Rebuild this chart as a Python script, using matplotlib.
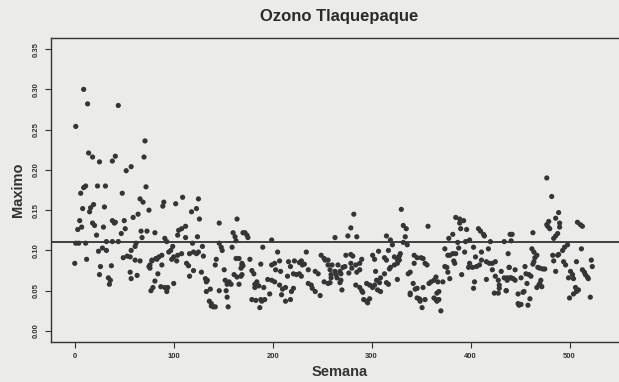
import matplotlib
matplotlib.use("Agg")
import matplotlib.pyplot as plt

# weekly ozone maxima
semana = [
    9, 13, 44, 1, 71, 14, 18, 25, 41, 38, 70, 57, 52, 11, 9, 6, 23, 31, 48, 72,
    66, 69, 19, 16, 15, 8, 30, 75, 64, 59, 5, 7, 3, 18, 20, 38, 41, 40, 50, 29,
    51, 22, 47, 67, 73, 81, 68, 1, 4, 11, 32, 38, 44, 62, 28, 24, 32, 61, 57, 0,
    12, 49, 53, 56, 61, 66, 78, 82, 26, 37, 75, 76, 25, 56, 63, 57, 34, 36, 35, 81,
    79, 77,
    109, 125, 90, 89, 102, 123, 118, 126, 164, 146, 112, 108, 105, 104, 160, 162, 124, 91, 93, 112,
    119, 146, 170, 163, 99, 97, 95, 129, 130, 148, 149, 159, 88, 85, 83, 78, 76, 108, 104, 100,
    98, 103, 116, 120, 125, 123, 143, 142, 163, 166, 169, 88, 113, 115, 84, 120, 128, 151, 116, 132,
    134, 133, 161, 164, 168, 152, 156, 158, 154, 87, 91, 94, 93, 100, 137, 133, 146, 153, 166, 154,
    136, 138, 140, 142, 138, 155,
    172, 174, 175, 199, 190, 205, 234, 177, 169, 170, 168, 188, 199, 202, 207, 203, 208, 216, 218, 222,
    227, 229, 232, 230, 179, 181, 169, 215, 221, 224, 227, 229, 236, 243, 246, 252, 253, 249, 256, 258,
    195, 199, 202, 184, 182, 182, 186, 191, 207, 213, 210, 219, 221, 236, 239, 240, 243, 248, 252, 256,
    259, 197, 209, 179, 183, 188, 192, 189, 187, 213, 218,
    330, 282, 279, 332, 335, 276, 285, 315, 263, 334, 332, 336, 319, 321, 317, 307, 274, 279, 281, 301,
    303, 313, 315, 323, 326, 329, 328, 290, 288, 284, 279, 343, 346, 350, 343, 328, 326, 323, 319, 318,
    256, 260, 266, 271, 273, 268, 263, 269, 264, 259, 265, 269, 258, 268, 277, 280, 285, 288, 304, 313,
    309, 305, 308, 317, 315, 326, 339, 337, 342, 344, 339, 339, 348, 349, 284, 288, 290, 291, 295, 298,
    301, 303, 306, 309, 270, 292, 295, 298, 296,
    385, 389, 393, 389, 357, 390, 396, 408, 410, 413, 414, 382, 378, 387, 395, 399, 420, 434, 440, 388,
    374, 403, 418, 405, 385, 382, 379, 377, 394, 411, 352, 411, 416, 419, 383, 384, 438, 354, 356, 399,
    422, 425, 374, 376, 398, 402, 406, 409, 439, 377, 391, 422, 425, 428, 431, 434, 437, 440, 416, 365,
    363, 360, 358, 379, 372, 367, 404, 403, 346, 352, 368, 366, 429, 429, 424, 428, 436, 349, 346, 354,
    363, 365, 368, 366, 351, 370,
    477, 482, 489, 486, 490, 490, 479, 477, 478, 480, 508, 511, 513, 463, 442, 441, 488, 486, 484, 498,
    495, 493, 489, 488, 512, 462, 464, 467, 465, 483, 464, 463, 484, 494, 496, 507, 522, 523, 439, 455,
    468, 470, 473, 475, 445, 513, 515, 516, 518, 519, 486, 501, 503, 456, 459, 461, 437, 441, 443, 445,
    451, 499, 504, 471, 470, 469, 472, 467, 457, 436, 506, 509, 507, 504, 448, 453, 454, 460, 448, 451,
    449, 458, 500, 521,
]

maximo = [
    0.300, 0.282, 0.280, 0.254, 0.236, 0.221, 0.216, 0.210, 0.217, 0.211, 0.216, 0.204, 0.199, 0.180, 0.178, 0.171, 0.180, 0.180, 0.171, 0.179,
    0.164, 0.160, 0.157, 0.153, 0.148, 0.152, 0.154, 0.150, 0.145, 0.141, 0.137, 0.129, 0.126, 0.134, 0.131, 0.137, 0.135, 0.134, 0.137, 0.129,
    0.127, 0.119, 0.121, 0.124, 0.124, 0.122, 0.116, 0.109, 0.109, 0.109, 0.111, 0.111, 0.111, 0.109, 0.103, 0.099, 0.100, 0.105, 0.100, 0.084,
    0.089, 0.091, 0.093, 0.092, 0.088, 0.087, 0.087, 0.090, 0.080, 0.081, 0.080, 0.078, 0.070, 0.073, 0.069, 0.065, 0.066, 0.063, 0.058, 0.062,
    0.054, 0.050,
    0.166, 0.164, 0.160, 0.155, 0.158, 0.152, 0.148, 0.139, 0.139, 0.134, 0.130, 0.127, 0.125, 0.119, 0.122, 0.117, 0.117, 0.115, 0.111, 0.116,
    0.109, 0.109, 0.122, 0.112, 0.105, 0.100, 0.098, 0.105, 0.093, 0.104, 0.100, 0.104, 0.094, 0.092, 0.089, 0.088, 0.082, 0.096, 0.094, 0.092,
    0.089, 0.087, 0.096, 0.098, 0.098, 0.096, 0.089, 0.082, 0.090, 0.090, 0.082, 0.082, 0.084, 0.081, 0.071, 0.075, 0.073, 0.076, 0.068, 0.065,
    0.063, 0.061, 0.070, 0.067, 0.068, 0.063, 0.061, 0.058, 0.058, 0.055, 0.054, 0.054, 0.049, 0.059, 0.052, 0.049, 0.050, 0.050, 0.058, 0.042,
    0.037, 0.034, 0.030, 0.030, 0.031, 0.030,
    0.122, 0.119, 0.116, 0.113, 0.104, 0.098, 0.098, 0.089, 0.084, 0.081, 0.078, 0.083, 0.082, 0.084, 0.087, 0.076, 0.074, 0.086, 0.080, 0.087,
    0.085, 0.087, 0.083, 0.082, 0.075, 0.071, 0.070, 0.068, 0.071, 0.070, 0.071, 0.068, 0.076, 0.074, 0.071, 0.090, 0.088, 0.094, 0.082, 0.076,
    0.064, 0.063, 0.061, 0.061, 0.058, 0.054, 0.056, 0.054, 0.057, 0.054, 0.052, 0.049, 0.053, 0.059, 0.057, 0.053, 0.049, 0.044, 0.061, 0.059,
    0.066, 0.046, 0.045, 0.039, 0.038, 0.039, 0.039, 0.037, 0.029, 0.037, 0.039,
    0.151, 0.145, 0.128, 0.131, 0.127, 0.118, 0.117, 0.118, 0.116, 0.117, 0.110, 0.107, 0.113, 0.107, 0.100, 0.099, 0.094, 0.095, 0.093, 0.094,
    0.089, 0.091, 0.088, 0.092, 0.089, 0.096, 0.093, 0.089, 0.084, 0.082, 0.084, 0.094, 0.091, 0.091, 0.084, 0.088, 0.084, 0.082, 0.079, 0.077,
    0.088, 0.082, 0.082, 0.079, 0.080, 0.074, 0.074, 0.071, 0.070, 0.070, 0.066, 0.063, 0.060, 0.060, 0.072, 0.078, 0.073, 0.076, 0.074, 0.071,
    0.066, 0.063, 0.060, 0.058, 0.060, 0.064, 0.073, 0.071, 0.059, 0.052, 0.047, 0.045, 0.040, 0.037, 0.057, 0.054, 0.050, 0.048, 0.059, 0.057,
    0.054, 0.057, 0.051, 0.049, 0.051, 0.039, 0.037, 0.040, 0.035,
    0.141, 0.139, 0.137, 0.134, 0.130, 0.127, 0.126, 0.127, 0.124, 0.120, 0.118, 0.120, 0.115, 0.110, 0.111, 0.113, 0.111, 0.111, 0.120, 0.103,
    0.102, 0.104, 0.102, 0.092, 0.096, 0.096, 0.094, 0.094, 0.098, 0.098, 0.090, 0.088, 0.086, 0.084, 0.087, 0.084, 0.096, 0.084, 0.082, 0.084,
    0.084, 0.086, 0.080, 0.079, 0.079, 0.079, 0.080, 0.082, 0.079, 0.073, 0.070, 0.076, 0.068, 0.063, 0.074, 0.066, 0.063, 0.066, 0.064, 0.067,
    0.063, 0.061, 0.059, 0.065, 0.061, 0.061, 0.061, 0.053, 0.053, 0.054, 0.049, 0.047, 0.057, 0.053, 0.047, 0.047, 0.050, 0.039, 0.041, 0.039,
    0.041, 0.039, 0.039, 0.037, 0.029, 0.025,
    0.190, 0.167, 0.147, 0.140, 0.134, 0.129, 0.136, 0.132, 0.130, 0.127, 0.135, 0.132, 0.130, 0.122, 0.120, 0.112, 0.121, 0.118, 0.115, 0.107,
    0.104, 0.100, 0.095, 0.094, 0.102, 0.102, 0.098, 0.094, 0.091, 0.094, 0.086, 0.083, 0.087, 0.086, 0.082, 0.086, 0.088, 0.080, 0.079, 0.080,
    0.079, 0.078, 0.077, 0.077, 0.076, 0.076, 0.073, 0.070, 0.067, 0.065, 0.074, 0.074, 0.070, 0.071, 0.070, 0.068, 0.066, 0.066, 0.065, 0.063,
    0.066, 0.066, 0.065, 0.063, 0.059, 0.057, 0.055, 0.054, 0.059, 0.050, 0.054, 0.051, 0.049, 0.046, 0.046, 0.048, 0.049, 0.040, 0.034, 0.033,
    0.032, 0.032, 0.041, 0.042,
]

NIVEL = 0.11
xticks = [0, 100, 200, 300, 400, 500]
yticks = [0.00, 0.05, 0.10, 0.15, 0.20, 0.25, 0.30, 0.35]

plt.rcParams["font.family"] = ["Liberation Sans", "DejaVu Sans"]
plt.rcParams["font.weight"] = "bold"

paper = "#ebebe9"
ink = "#353535"

fig = plt.figure(figsize=(6.19, 3.82), dpi=100, facecolor=paper)
# right edge of the frame falls outside the scan, like the original
ax = fig.add_axes([0.0824, 0.104, 0.932, 0.797], facecolor=paper)

ax.scatter(semana, maximo, s=14, color=ink, edgecolors="none", zorder=3)
ax.axhline(NIVEL, color="#333333", linewidth=1.3, zorder=2)

ax.set_xlim(-24, 559)
ax.set_ylim(-0.014, 0.364)
ax.set_xticks(xticks)
ax.set_xticklabels([str(t) for t in xticks], fontsize=5.5, fontweight="bold")
ax.set_yticks(yticks)
ax.set_yticklabels([f"{t:.2f}" for t in yticks], fontsize=5.5, fontweight="bold",
                   rotation=90, va="center")
ax.tick_params(direction="out", length=4, width=0.8, colors="#333333", pad=4)

for side in ["top", "bottom", "left", "right"]:
    ax.spines[side].set_color("#333333")
    ax.spines[side].set_linewidth(1.0)

ax.set_title("Ozono Tlaquepaque", fontsize=12, fontweight="bold", color="#2a2a2a", pad=12)
ax.set_xlabel("Semana", fontsize=10.5, fontweight="bold", color="#333333", labelpad=3)
ax.set_ylabel("Maximo", fontsize=10.5, fontweight="bold", color="#333333", labelpad=6)

fig.savefig("out.png", dpi=100, facecolor=paper)
